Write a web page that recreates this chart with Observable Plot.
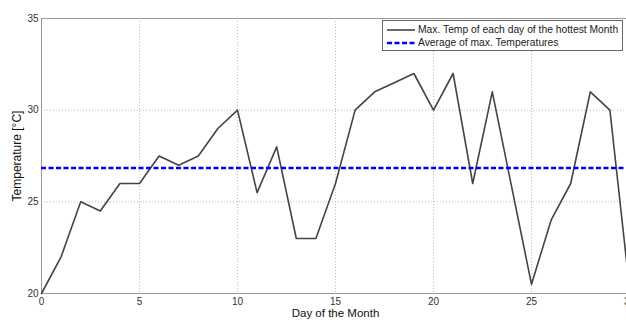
<!DOCTYPE html>
<html>
<head>
<meta charset="utf-8">
<script src="https://cdn.jsdelivr.net/npm/d3@7"></script>
<script src="https://cdn.jsdelivr.net/npm/@observablehq/plot@0.6"></script>
<style>
  html, body { margin: 0; padding: 0; background: #fff; overflow: hidden; }
  #wrap { position: relative; width: 626px; height: 320px; font-family: 'Liberation Sans', Arial, sans-serif; }
  #legend { position: absolute; left: 382px; top: 20px; width: 241px; height: 31px; border: 1px solid #666; background: #fff; font-size: 10.3px; color: #222; box-sizing: border-box; }
  #legend .row { position: absolute; left: 4px; height: 13px; line-height: 13px; display: flex; align-items: center; white-space: nowrap; }
  #legend svg { margin-right: 3px; }
</style>
</head>
<body>
<div id="wrap"></div>
<script>
const days = [0,1,2,3,4,5,6,7,8,9,10,11,12,13,14,15,16,17,18,19,20,21,22,23,24,25,26,27,28,29,30];
const maxTemp = [20,22,25,24.5,26,26,27.5,27,27.5,29,30,25.5,28,23,23,26,30,31,31.5,32,30,32,26,31,25.75,20.5,24,26,31,30,20.3];
const avgTemp = 26.85;
const xTicks = [0,5,10,15,20,25,30];
const yTicks = [20,25,30,35];
const xLabel = "Day of the Month";
const yLabel = "Temperature [°C]";
const seriesNames = ["Max. Temp of each day of the hottest Month", "Average of max. Temperatures"];

const data = days.map((d, i) => ({day: d, temp: maxTemp[i]}));
const font = "'Liberation Sans', Arial, sans-serif";

const chart = Plot.plot({
  width: 626,
  height: 320,
  marginLeft: 41,
  marginRight: -3,
  marginTop: 18,
  marginBottom: 27,
  style: {fontFamily: font, fontSize: "10px", color: "#333", background: "white", maxWidth: "none", overflow: "hidden"},
  x: {domain: [0, 30], ticks: xTicks},
  y: {domain: [20, 35], ticks: yTicks},
  marks: [
    Plot.gridX(xTicks, {stroke: "#bbb", strokeOpacity: 1, strokeDasharray: "1,2"}),
    Plot.gridY(yTicks, {stroke: "#bbb", strokeOpacity: 1, strokeDasharray: "1,2"}),
    Plot.axisX(xTicks, {anchor: "bottom", tickSize: 0, tickPadding: 4, label: null, fontSize: 10, fill: "#333"}),
    Plot.axisY(yTicks, {anchor: "left", tickSize: 0, tickPadding: 3, label: null, fontSize: 10, fill: "#333"}),
    Plot.text([xLabel], {frameAnchor: "bottom", dy: 15.5, lineAnchor: "top", fontSize: 11.5, fill: "#111", fontFamily: font}),
    Plot.text([yLabel], {frameAnchor: "left", textAnchor: "middle", dx: -24, rotate: -90, fontSize: 12, fill: "#111", fontFamily: font}),
    Plot.frame({stroke: "#999"}),
    Plot.line(data, {x: "day", y: "temp", stroke: "#444", strokeWidth: 1.6}),
    Plot.ruleY([avgTemp], {stroke: "#0000ff", strokeWidth: 2.5, strokeDasharray: "5,2.5"})
  ]
});
const wrap = document.getElementById("wrap");
wrap.appendChild(chart);

const legend = document.createElement("div");
legend.id = "legend";
legend.innerHTML = `
  <div class="row" style="top:2px"><svg width="28" height="4"><line x1="0" y1="2" x2="28" y2="2" stroke="#444" stroke-width="1.6"/></svg>${seriesNames[0]}</div>
  <div class="row" style="top:15px"><svg width="28" height="4"><line x1="0" y1="2" x2="28" y2="2" stroke="#0000ff" stroke-width="2.5" stroke-dasharray="5,2.5"/></svg>${seriesNames[1]}</div>`;
wrap.appendChild(legend);
</script>
</body>
</html>
